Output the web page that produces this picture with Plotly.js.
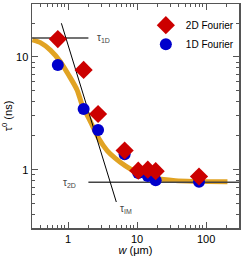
<!DOCTYPE html>
<html>
<head>
<meta charset="utf-8">
<script src="https://cdn.plot.ly/plotly-3.0.1.min.js"></script>
<style>html,body{margin:0;padding:0;background:#fff;}#chart{width:244px;height:256px;}</style>
</head>
<body>
<div id="chart"></div>
<script>
// Data
const wFourier = [0.71, 1.68, 2.72, 6.6, 10.4, 14.3, 18.6, 79];
const tau2D = [14.4, 7.67, 3.12, 1.48, 0.98, 1.0, 0.97, 0.87];
const tau1D = [8.49, 3.46, 2.25, 1.37, 0.935, 0.88, 0.805, 0.78];

const fitW = [0.304, 0.397, 0.554, 0.773, 1.02, 1.35, 1.60, 2.11, 2.77, 3.68, 4.85, 6.77, 9.45, 18.4, 35.9, 204];
const fitTau = [14.2, 13.4, 11.5, 9.08, 6.92, 5.10, 3.75, 2.67, 1.90, 1.48, 1.26, 1.08, 0.96, 0.84, 0.80, 0.78];

const tau1DLevelW = [0.3, 1.97];
const tau1DLevel = [14.7, 14.7];
const tau2DLevelW = [1.97, 300];
const tau2DLevel = [0.773, 0.773];
const tauIMW = [0.80, 5.0];
const tauIM = [19.9, 0.517];

const xMajor = [1, 10, 100];
const xMajorText = ['1', '10', '100'];
const xMinor = [0.3,0.4,0.5,0.6,0.7,0.8,0.9,2,3,4,5,6,7,8,9,20,30,40,50,60,70,80,90,200,300];
const yMajor = [1, 10];
const yMajorText = ['1', '10'];
const yMinor = [0.4,0.5,0.6,0.7,0.8,0.9,2,3,4,5,6,7,8,9,20];

const gold = '#e1a323';
const red = '#cc0000';
const blue = '#0000cc';

const traces = [
  {x: fitW, y: fitTau, mode: 'lines', line: {color: gold, width: 5, shape: 'spline', smoothing: 0.7}, showlegend: false, hoverinfo: 'skip'},
  {x: tau1DLevelW, y: tau1DLevel, mode: 'lines', line: {color: '#444', width: 1.5}, showlegend: false},
  {x: tau2DLevelW, y: tau2DLevel, mode: 'lines', line: {color: '#444', width: 1.5}, showlegend: false},
  {x: tauIMW, y: tauIM, mode: 'lines', line: {color: '#000', width: 1}, showlegend: false},
  {x: wFourier, y: tau1D, mode: 'markers', name: '1D Fourier', legendrank: 2,
   marker: {symbol: 'circle', size: 12, color: blue}},
  {x: wFourier, y: tau2D, mode: 'markers', name: '2D Fourier', legendrank: 1,
   marker: {symbol: 'diamond', size: 14, color: red}}
];

const axisCommon = {
  type: 'log', showgrid: false, zeroline: false, showline: true, linecolor: '#555', linewidth: 1.5,
  mirror: 'allticks', ticks: 'inside', ticklen: 6, tickcolor: '#555', tickwidth: 1,
  tickfont: {family: 'Liberation Sans, Arial, sans-serif', size: 11, color: '#000'}
};

const layout = {
  width: 244, height: 256,
  margin: {l: 32, r: 5, t: 4, b: 28},
  paper_bgcolor: '#fff', plot_bgcolor: '#fff',
  font: {family: 'Liberation Sans, Arial, sans-serif', size: 11, color: '#000'},
  xaxis: Object.assign({}, axisCommon, {
    range: [Math.log10(0.3), Math.log10(300)],
    tickmode: 'array', tickvals: xMajor, ticktext: xMajorText,
    minor: {tickmode: 'array', tickvals: xMinor, ticks: 'inside', ticklen: 3, tickcolor: '#555'},
    title: {text: '<i>w</i> (μm)', font: {size: 11}, standoff: 2}
  }),
  yaxis: Object.assign({}, axisCommon, {
    range: [Math.log10(0.304), Math.log10(29.5)],
    tickmode: 'array', tickvals: yMajor, ticktext: yMajorText,
    minor: {tickmode: 'array', tickvals: yMinor, ticks: 'inside', ticklen: 3, tickcolor: '#555'},
    title: {text: 'τ<sup>0</sup> (ns)', font: {size: 11}, standoff: 4}
  }),
  legend: {x: 0.55, y: 0.97, xanchor: 'left', yanchor: 'top', bgcolor: 'rgba(0,0,0,0)',
           font: {size: 10}, itemwidth: 30, tracegroupgap: 0},
  annotations: [
    {x: Math.log10(3.25), y: Math.log10(14.7), xref: 'x', yref: 'y', text: 'τ<sub>1D</sub>', showarrow: false, font: {size: 10, color: '#444'}},
    {x: Math.log10(1.05), y: Math.log10(0.76), xref: 'x', yref: 'y', text: 'τ<sub>2D</sub>', showarrow: false, font: {size: 10, color: '#444'}},
    {x: Math.log10(7.0), y: Math.log10(0.45), xref: 'x', yref: 'y', text: 'τ<sub>IM</sub>', showarrow: false, font: {size: 10, color: '#444'}}
  ]
};

Plotly.newPlot('chart', traces, layout, {staticPlot: true, displayModeBar: false});
</script>
</body>
</html>
